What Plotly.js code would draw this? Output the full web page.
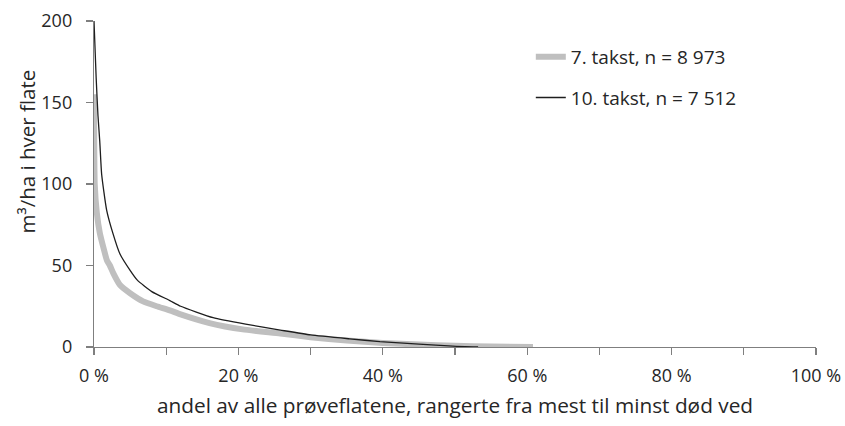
<!DOCTYPE html>
<html>
<head>
<meta charset="utf-8">
<script src="https://cdn.plot.ly/plotly-3.0.1.min.js"></script>
<style>
  html, body { margin: 0; padding: 0; background: #ffffff; }
  #chart { width: 845px; height: 426px; }
</style>
</head>
<body>
<div id="chart"></div>
<script>
// Series "7. takst" (grey, thick)
const takst7Name = '7. takst, n = 8 973';
const takst7X = [0, 0.1, 0.4, 0.8, 1.3, 1.8, 2.2, 2.7, 3.6, 5, 6.8, 8.7, 10.5, 12, 16, 20.6, 25.8, 30, 35, 40, 45, 50, 55, 60.8];
const takst7Y = [155, 100, 82, 70, 61, 53, 50, 45, 38, 33, 28, 25, 22.5, 20, 14.7, 10.8, 8.3, 6, 4, 2.5, 1.5, 0.7, 0.3, 0];

// Series "10. takst" (black, thin)
const takst10Name = '10. takst, n = 7 512';
const takst10X = [0, 0.3, 0.55, 0.8, 1.06, 1.75, 2.6, 3.6, 5, 6, 8, 10.5, 12, 16.5, 21, 25.8, 30, 35.4, 39.6, 45, 49.7, 53.2];
const takst10Y = [200, 165, 142, 126, 106, 84, 70, 57, 47, 41, 34, 28.5, 25, 18, 14, 10.4, 7.4, 5, 3.3, 1.8, 0.5, 0];

// Axis ticks
const xTickVals = [0, 20, 40, 60, 80, 100];
const xTickText = ['0 %', '20 %', '40 %', '60 %', '80 %', '100 %'];
const xMinorVals = [10, 30, 50, 70, 90];
const yTickVals = [0, 50, 100, 150, 200];

const xTitle = 'andel av alle prøveflatene, rangerte fra mest til minst død ved';
const yTitle = 'm³/ha i hver flate';

const FONT = '"Open Sans", "Liberation Sans", sans-serif';
const TXT = '#262626';
const AX = '#7f7f7f';

const traces = [
  {
    x: takst7X, y: takst7Y, name: takst7Name, type: 'scatter', mode: 'lines',
    line: { color: '#bfbfbf', width: 6, shape: 'spline', smoothing: 0.5 },
    legendgroup: 'a'
  },
  {
    x: takst10X, y: takst10Y, name: takst10Name, type: 'scatter', mode: 'lines',
    line: { color: '#1e1e1e', width: 1.3, shape: 'spline', smoothing: 0.5 },
    legendgroup: 'b'
  }
];

const layout = {
  width: 845, height: 426,
  margin: { l: 94, r: 29, t: 21, b: 79, pad: 0 },
  paper_bgcolor: '#ffffff', plot_bgcolor: '#ffffff',
  font: { family: FONT, size: 18, color: TXT },
  showlegend: true,
  legend: {
    x: 0.605, y: 0.948, xanchor: 'left', yanchor: 'top',
    bgcolor: 'rgba(0,0,0,0)', borderwidth: 0,
    font: { family: FONT, size: 19, color: TXT },
    traceorder: 'grouped', tracegroupgap: 13
  },
  xaxis: {
    range: [0, 100], fixedrange: true,
    tickmode: 'array', tickvals: xTickVals, ticktext: xTickText,
    ticks: 'outside', ticklen: 7, tickwidth: 1.2, tickcolor: AX,
    minor: { tickmode: 'array', tickvals: xMinorVals, ticks: 'outside', ticklen: 7, tickwidth: 1.2, tickcolor: AX },
    showline: true, linecolor: AX, linewidth: 1.2,
    showgrid: false, zeroline: false,
    tickfont: { family: FONT, size: 18, color: TXT },
    ticklabelstandoff: 5,
    title: { text: xTitle, standoff: 12, font: { family: FONT, size: 20.8, color: TXT } }
  },
  yaxis: {
    range: [0, 200], fixedrange: true,
    tickmode: 'array', tickvals: yTickVals,
    ticks: 'outside', ticklen: 7, tickwidth: 1.2, tickcolor: AX,
    showline: true, linecolor: AX, linewidth: 1.2,
    showgrid: false, zeroline: false,
    tickfont: { family: FONT, size: 18, color: TXT },
    ticklabelstandoff: 10
  },
  // y-axis title placed as in the original (above the axis centre)
  annotations: [{
    text: yTitle, textangle: -90,
    xref: 'paper', yref: 'paper', x: -0.0928, y: 0.6,
    xanchor: 'center', yanchor: 'middle', showarrow: false,
    font: { family: FONT, size: 20.5, color: TXT }
  }]
};

Plotly.newPlot('chart', traces, layout, { staticPlot: true, displayModeBar: false });
</script>
</body>
</html>
